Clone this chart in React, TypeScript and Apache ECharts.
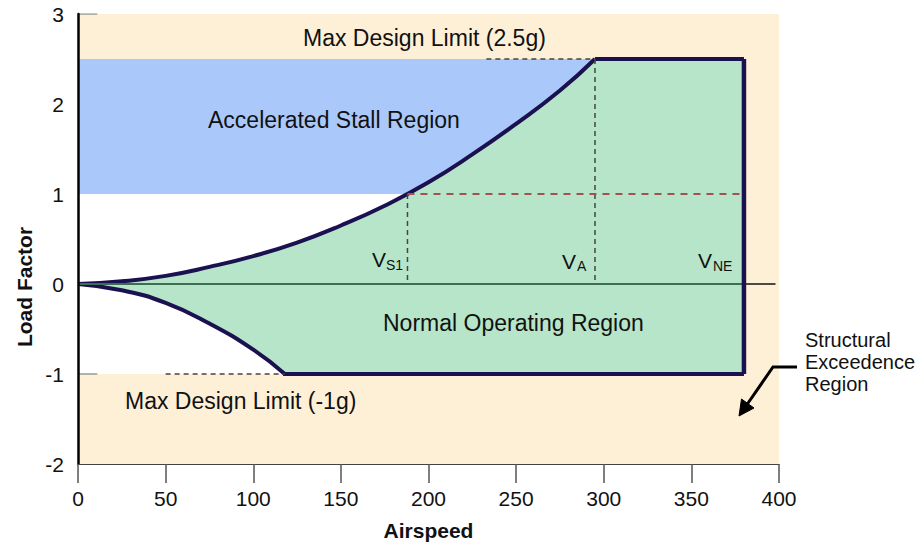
import React, { useEffect, useRef } from "react";
import * as echarts from "echarts";

// Upper (positive) stall curve: airspeed vs load factor
const upperSpeeds = [0, 25, 50, 75, 100, 125, 150, 175, 200, 225, 250, 275, 295];
const upperLoads = [0, 0.03, 0.09, 0.19, 0.31, 0.46, 0.65, 0.87, 1.13, 1.44, 1.78, 2.15, 2.5];
// Lower (negative) stall curve
const lowerSpeeds = [0, 25, 50, 75, 100, 118];
const lowerLoads = [0, -0.07, -0.21, -0.44, -0.73, -1.0];
// Key speeds and limits
const VS1 = 188;
const VA = 295;
const VNE = 380;
const POS_LIMIT = 2.5;
const NEG_LIMIT = -1;
const STALL_1G = 1;
const NEG_CORNER = 118;

const FONT = "Liberation Sans, Arial, Helvetica, sans-serif";

export default function App() {
  const ref = useRef<HTMLDivElement>(null);
  useEffect(() => {
    if (!ref.current) return;
    const chart = echarts.init(ref.current, undefined, { renderer: "svg" });
    const navy = "#1c1150";
    const green = "#b7e5c9";
    const upperData = upperSpeeds.map((v, i) => [v, upperLoads[i]]);
    const lowerData = lowerSpeeds.map((v, i) => [v, lowerLoads[i]]);
    const dashGray = { color: "#444", width: 1.5, type: [5, 4] as any };
    const seg = (data: number[][], lineStyle: any, z = 3) => ({
      type: "line",
      data,
      symbol: "none",
      silent: true,
      z,
      lineStyle,
    });
    const txt = (text: string, x: number, y: number, size: number, extra: any = {}) => ({
      type: "text",
      x,
      y,
      silent: true,
      z: 100,
      style: {
        text,
        fontSize: size,
        fontFamily: FONT,
        fill: "#111",
        textAlign: "left",
        align: "left",
        textVerticalAlign: "middle",
        verticalAlign: "middle",
        ...extra,
      },
    });
    chart.setOption({
      animation: false,
      grid: {
        left: 78,
        right: 145,
        top: 14,
        bottom: 80,
        show: true,
        backgroundColor: "#fef0d7",
        borderWidth: 0,
      },
      xAxis: {
        type: "value",
        min: 0,
        max: 400,
        interval: 50,
        z: 10,
        name: "Airspeed",
        nameLocation: "middle",
        nameGap: 56,
        nameTextStyle: { fontSize: 21, fontWeight: "bold", fontFamily: FONT, color: "#111" },
        axisLine: { onZero: false, lineStyle: { color: "#444", width: 1 } },
        axisTick: { show: true, length: 19, lineStyle: { color: "#555", width: 1.5 } },
        axisLabel: { fontSize: 21, fontFamily: FONT, color: "#111", margin: 24 },
        splitLine: { show: false },
      },
      yAxis: {
        type: "value",
        min: -2,
        max: 3,
        interval: 1,
        z: 10,
        axisLine: { show: true, onZero: false, lineStyle: { color: "#000", width: 2.5 } },
        axisTick: { show: false },
        axisLabel: { fontSize: 21, fontFamily: FONT, color: "#111", margin: 14 },
        splitLine: { show: false },
      },
      series: [
        {
          type: "line",
          data: [],
          silent: true,
          z: 1,
          markArea: {
            silent: true,
            data: [
              [
                { coord: [0, NEG_LIMIT], itemStyle: { color: "#ffffff" } },
                { coord: [VNE, STALL_1G] },
              ],
              [
                { coord: [0, STALL_1G], itemStyle: { color: "#aac9fa" } },
                { coord: [VNE, POS_LIMIT] },
              ],
            ],
          },
        },
        // green envelope fills
        {
          type: "line",
          data: upperData,
          smooth: 0.5,
          symbol: "none",
          silent: true,
          z: 2,
          areaStyle: { color: green, opacity: 1, origin: 0 },
          lineStyle: { color: navy, width: 4 },
        },
        {
          type: "line",
          data: [[VA, POS_LIMIT], [VNE, POS_LIMIT]],
          symbol: "none",
          silent: true,
          z: 2,
          areaStyle: { color: green, opacity: 1, origin: 0 },
          lineStyle: { color: navy, width: 4 },
        },
        {
          type: "line",
          data: lowerData,
          smooth: 0.5,
          symbol: "none",
          silent: true,
          z: 2,
          areaStyle: { color: green, opacity: 1, origin: 0 },
          lineStyle: { color: navy, width: 4 },
        },
        {
          type: "line",
          data: [[NEG_CORNER - 1, NEG_LIMIT], [VNE, NEG_LIMIT]],
          symbol: "none",
          silent: true,
          z: 2,
          areaStyle: { color: green, opacity: 1, origin: 0 },
          lineStyle: { color: navy, width: 4 },
        },
        // zero line
        seg([[0, 0], [VNE, 0]], { color: "#3d6e4e", width: 2 }, 3),
        seg([[VNE, 0], [398, 0]], { color: "#111", width: 1.5 }, 3),
        // dashed guides
        seg([[233, POS_LIMIT], [VA, POS_LIMIT]], dashGray),
        seg([[VA, POS_LIMIT], [VA, 0]], dashGray),
        seg([[VS1, STALL_1G], [VS1, 0]], dashGray),
        seg([[50, NEG_LIMIT], [NEG_CORNER, NEG_LIMIT]], dashGray),
        seg([[VS1, STALL_1G], [VNE, STALL_1G]], { color: "#a0524f", width: 2, type: [7, 6] }),
        // small gray marks at the axis
        seg([[0, 3], [11, 3]], { color: "#999", width: 1.5 }),
        seg([[0, NEG_LIMIT], [11, NEG_LIMIT]], { color: "#999", width: 1.5 }),
        // VNE vertical edge
        seg([[VNE, POS_LIMIT], [VNE, NEG_LIMIT]], { color: navy, width: 4.5 }, 4),
      ],
      graphic: [
        txt("Max Design Limit (2.5g)", 303, 38, 23),
        txt("Accelerated Stall Region", 208, 120, 23),
        txt("Normal Operating Region", 383, 323, 23),
        txt("Max Design Limit (-1g)", 125, 401, 23),
        txt("V", 372, 259.5, 21),
        txt("S1", 386, 265, 14),
        txt("V", 562, 261, 21),
        txt("A", 577, 266, 14),
        txt("V", 698, 260.5, 21),
        txt("NE", 713, 265.5, 14),
        txt("Structural", 805, 339.5, 20),
        txt("Exceedence", 805, 362, 20),
        txt("Region", 805, 383.5, 20),
        {
          type: "text",
          x: 24,
          y: 287,
          rotation: Math.PI / 2,
          silent: true,
          style: {
            text: "Load Factor",
            fontSize: 21,
            fontWeight: "bold",
            fontFamily: FONT,
            fill: "#111",
            textAlign: "center",
            align: "center",
            textVerticalAlign: "middle",
            verticalAlign: "middle",
          },
        },
        {
          type: "polyline",
          silent: true,
          z: 100,
          shape: { points: [[797, 367], [773, 367], [746, 406]] },
          style: { stroke: "#000", lineWidth: 3, fill: null },
        },
        {
          type: "polygon",
          silent: true,
          z: 100,
          shape: { points: [[739, 416], [741.5, 399], [754, 408]] },
          style: { fill: "#000", stroke: "#000", lineWidth: 1 },
        },
      ],
    });
    return () => chart.dispose();
  }, []);
  return (
    <div
      ref={ref}
      style={{ position: "fixed", left: 0, top: 0, width: 924, height: 546, background: "#fff" }}
    />
  );
}
